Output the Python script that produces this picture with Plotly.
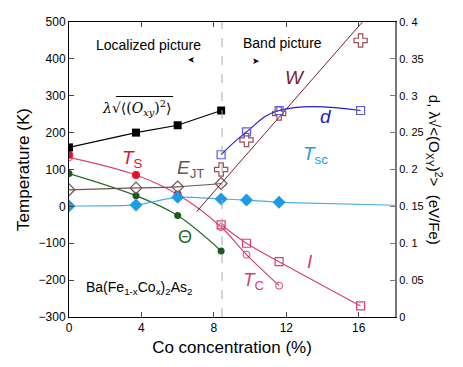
import plotly.graph_objects as go

# --- data (x = Co concentration %) ---
x_lam = [0, 3.7, 6.0, 8.4]
lam_ev = [0.230, 0.250, 0.260, 0.280]          # lambda*sqrt<(Oxy)^2>, eV/Fe

x_ts_fill = [0, 3.7, 6.0]
ts_fill = [140, 85, 32]                          # T_S, K (filled)
x_tstc = [0, 3.7, 6.0, 8.4, 9.8, 11.6]
tstc = [133, 85, 32, -56, -131, -215]            # T_S / T_C curve, K
x_tc_open = [0, 8.4, 9.8, 11.6]
tc_open = [133, -56, -131, -215]

x_theta = [0, 3.7, 6.0, 8.4]
theta = [89, 29, -25, -121]                      # Theta, K

x_ejt = [0, 3.7, 6.0, 8.4]
ejt = [45, 50, 53, 62]                           # E_JT, K

x_tsc = [0, 3.7, 6.0, 8.4, 9.8, 11.6]
tsc = [1, 4, 25, 20, 17, 11]                     # T_sc, K
x_tsc_tail = [11.6, 18.0]
tsc_tail = [11, 3]

x_band = [8.4, 9.8, 11.6, 16.1]
d_ev = [0.220, 0.251, 0.280, 0.280]              # d, eV/Fe
w_pts = [0.200, 0.240, 0.276, 0.375]             # W points, eV/Fe
i_ev = [0.125, 0.100, 0.075, 0.015]              # I, eV/Fe
x_wline = [7.05, 16.2]
w_line = [0.143, 0.400]

y_ticks = [-300, -200, -100, 0, 100, 200, 300, 400, 500]
y2_ticks = [0, 0.05, 0.1, 0.15, 0.2, 0.25, 0.3, 0.35, 0.4]
y2_text = ['0', '0. 05', '0. 1', '0. 15', '0. 2', '0. 25', '0. 3', '0. 35', '0. 4']

PINK = '#d8407a'
BROWN = '#6a5550'

fig = go.Figure()

# temperature-axis series
fig.add_trace(go.Scatter(x=x_tstc, y=tstc, mode='lines', line=dict(color=PINK, width=1.2, shape='spline')))
fig.add_trace(go.Scatter(x=x_tc_open, y=tc_open, mode='markers',
                         marker=dict(symbol='circle-open', size=7, color=PINK, line=dict(width=1))))
fig.add_trace(go.Scatter(x=x_ts_fill, y=ts_fill, mode='markers',
                         marker=dict(symbol='circle', size=8, color='#e5102b')))
fig.add_trace(go.Scatter(x=x_theta, y=theta, mode='lines+markers',
                         line=dict(color='#1e6a20', width=1.2, shape='spline'),
                         marker=dict(symbol='circle', size=7, color='#1e5a1e')))
fig.add_trace(go.Scatter(x=x_ejt, y=ejt, mode='lines+markers',
                         line=dict(color=BROWN, width=1.2, shape='spline'),
                         marker=dict(symbol='diamond-open', size=9, color=BROWN, line=dict(width=1.2))))
fig.add_trace(go.Scatter(x=x_tsc_tail, y=tsc_tail, mode='lines', line=dict(color='#4aaee0', width=1.2)))
fig.add_trace(go.Scatter(x=x_tsc, y=tsc, mode='lines+markers',
                         line=dict(color='#4aaee0', width=1.2, shape='spline', smoothing=0.6),
                         marker=dict(symbol='diamond', size=10, color='#1e9be6')))

# energy-axis series
fig.add_trace(go.Scatter(x=x_lam, y=lam_ev, yaxis='y2', mode='lines+markers',
                         line=dict(color='black', width=1.2),
                         marker=dict(symbol='square', size=8, color='black')))
fig.add_trace(go.Scatter(x=x_wline, y=w_line, yaxis='y2', mode='lines',
                         line=dict(color='#7a1e2e', width=1)))
fig.add_trace(go.Scatter(x=x_band, y=w_pts, yaxis='y2', mode='markers',
                         marker=dict(symbol='cross-open', size=11, color='#9a5050', line=dict(width=1.2))))
fig.add_trace(go.Scatter(x=x_band, y=d_ev, yaxis='y2', mode='lines+markers',
                         line=dict(color='#2020c8', width=1.2, shape='spline', smoothing=1.3),
                         marker=dict(symbol='square-open', size=8, color='#5a5ae0', line=dict(width=1.2))))
fig.add_trace(go.Scatter(x=x_band, y=i_ev, yaxis='y2', mode='lines+markers',
                         line=dict(color=PINK, width=1.2, shape='spline'),
                         marker=dict(symbol='square-open', size=8, color=PINK, line=dict(width=1.2))))

fig.add_shape(type='line', x0=8.45, x1=8.45, y0=0, y1=1, yref='paper',
              line=dict(color='#aaaaaa', width=1, dash='dash'))
# overbar of the square-root sign
fig.add_shape(type='line', x0=2.6, x1=5.75, y0=298, y1=298, line=dict(color='black', width=1))

def label(text, x, y, color, size=17, family='Arial', xanchor='center', yref='y', **kw):
    fig.add_annotation(text=text, x=x, y=y, xref='x', yref=yref, showarrow=False,
                       xanchor=xanchor, font=dict(color=color, size=size, family=family), **kw)

label('Localized picture', 4.4, 438, 'black', size=14)
label('Band picture', 11.8, 443, 'black', size=14)
label('➤', 6.7, 395, 'black', size=9, textangle=180)
label('➤', 10.3, 395, 'black', size=9)
label('<i>λ</i>√⟨(<i>O<sub>xy</sub></i>)<sup>2</sup>⟩', 3.7, 268, 'black', size=14, family='DejaVu Serif')
label('<i>T</i><sub>S</sub>', 3.5, 128, '#e5102b', size=19)
label('<i>E</i><sub>JT</sub>', 6.7, 102, BROWN, size=19)
label('<i>W</i>', 12.5, 349, '#7a1e2e', size=19)
label('<i>d</i>', 14.2, 243, '#2020c8', size=19)
label('<i>T</i><sub>sc</sub>', 13.6, 138, '#1e9be6', size=19)
label('Θ', 6.4, -83, '#1e6a20', size=18)
label('<i>T</i><sub>C</sub>', 10.2, -203, PINK, size=19)
label('<i>I</i>', 13.3, -149, PINK, size=19)
label('Ba(Fe<sub>1-x</sub>Co<sub>x</sub>)<sub>2</sub>As<sub>2</sub>', 0.85, -220, 'black', size=14, xanchor='left')

fig.add_annotation(text='d, λ√<(O<sub>XY</sub>)<sup>2</sup>>  (eV/Fe)', x=1.16, y=0.5,
                   xref='paper', yref='paper', showarrow=False, textangle=90,
                   font=dict(size=15, family='Arial', color='black'))

fig.update_layout(
    width=463, height=367,
    margin=dict(l=61, r=76, t=7, b=58),
    plot_bgcolor='white', paper_bgcolor='white',
    showlegend=False,
    font=dict(family='Arial', color='black'),
    xaxis=dict(range=[0, 18], tickvals=[0, 4, 8, 12, 16], ticks='inside', ticklen=5,
               showgrid=False, zeroline=False, showline=True, linecolor='black', mirror='ticks',
               tickfont=dict(size=12),
               title=dict(text='Co concentration (%)', font=dict(size=17), standoff=6)),
    yaxis=dict(range=[-300, 500], tickvals=y_ticks,
               ticktext=[str(v).replace('-', '−') for v in y_ticks],
               ticks='inside', ticklen=5, showgrid=False, zeroline=False, showline=True,
               linecolor='black', tickfont=dict(size=12),
               title=dict(text='Temperature (K)', font=dict(size=17), standoff=4)),
    yaxis2=dict(range=[0, 0.4], overlaying='y', side='right',
                tickvals=y2_ticks, ticktext=y2_text,
                ticks='inside', ticklen=5, tickcolor='#777', showgrid=False, zeroline=False,
                showline=True, linecolor='#777', linewidth=2,
                tickfont=dict(size=11, family='Liberation Sans Narrow, Arial Narrow, Arial')),
)

fig.write_html("out.html")
